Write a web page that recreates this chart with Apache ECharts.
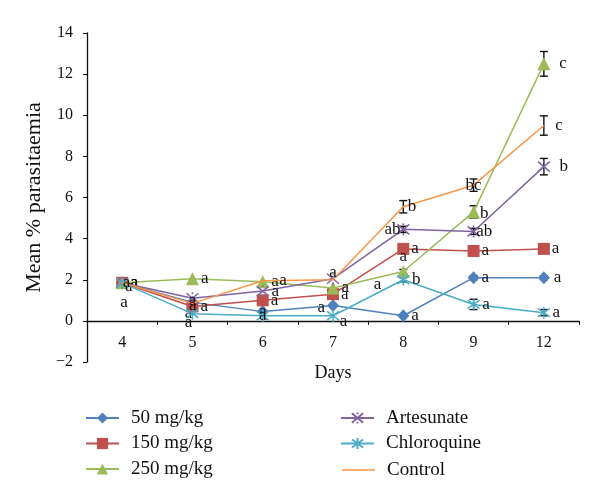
<!DOCTYPE html>
<html>
<head>
<meta charset="utf-8">
<script src="https://cdn.jsdelivr.net/npm/echarts@6/dist/echarts.min.js"></script>
<style>html,body{margin:0;padding:0;background:#fff}#c{width:600px;height:499px}</style>
</head>
<body>
<div id="c"></div>
<script>
var days = ['4', '5', '6', '7', '8', '9', '12'];
var yTicks = [-2, 0, 2, 4, 6, 8, 10, 12, 14];
var seriesNames = ['50 mg/kg', '150 mg/kg', '250 mg/kg', 'Artesunate', 'Chloroquine', 'Control'];

var mg50 = [1.85, 0.9, 0.45, 0.75, 0.25, 2.1, 2.1];
var mg150 = [1.85, 0.7, 1.0, 1.3, 3.5, 3.4, 3.5];
var mg250 = [1.85, 2.05, 1.9, 1.6, 2.4, 5.3, 12.5];
var artesunate = [1.85, 1.1, 1.45, 2.05, 4.45, 4.35, 7.5];
var chloroquine = [1.85, 0.35, 0.25, 0.25, 2.0, 0.8, 0.4];
var control = [1.85, 0.85, 1.95, 2.0, 5.55, 6.6, 9.5];

var err50 = [0, 0, 0, 0, 0, 0.1, 0.1];
var err150 = [0, 0, 0, 0, 0.1, 0.1, 0.1];
var err250 = [0, 0, 0, 0, 0.1, 0.3, 0.6];
var errArt = [0, 0, 0, 0, 0.15, 0.15, 0.4];
var errChl = [0, 0, 0, 0, 0.1, 0.25, 0.15];
var errCtl = [0, 0, 0, 0, 0.3, 0.3, 0.47];

var let50 = ['a', 'a', 'a', 'a', 'a', 'a', 'a'];
var let150 = ['a', 'a', 'a', 'a', 'a', 'a', 'a'];
var let250 = ['a', 'a', 'a', 'a', 'a', 'b', 'c'];
var letArt = ['a', 'a', 'a', 'a', 'ab', 'ab', 'b'];
var letChl = ['a', 'a', 'a', 'a', 'b', 'a', 'a'];
var letCtl = ['a', 'a', 'a', 'a', 'b', 'bc', 'c'];

var values = [mg50, mg150, mg250, artesunate, chloroquine, control];
var errors = [err50, err150, err250, errArt, errChl, errCtl];
var letters = [let50, let150, let250, letArt, letChl, letCtl];
var colors = ['#4F81BD', '#C0504D', '#9BBB59', '#8064A2', '#4BACC6', '#F79646'];
var symbols = [
  'diamond', 'rect', 'triangle',
  'path://M0,0L10,10M10,0L0,10M5,-1L5,1M5,9L5,11',
  'path://M0,0L10,10M10,0L0,10M5,-2L5,12',
  'circle'
];
var symbolSizes = [[12, 13], 12, 13, [12, 12], [12, 12], 1];

// label placement tweaks (style, not data)
var labelPos = {
  '0-3': {position: 'left', offset: [0, 2]},
  '0-6': {position: 'right', offset: [2, 0]},
  '3-4': {position: 'left', offset: [6, 0]},
  '3-5': {position: 'right', offset: [-6, 0]},
  '3-6': {position: 'right', offset: [7, 0]},
  '2-4': {position: 'top', offset: [0, 2]},
  '2-5': {position: 'right', offset: [-2, 2]},
  '2-6': {position: 'right', offset: [7, 0]},
  '5-5': {position: 'inside', offset: [0, 0]},
  '5-6': {position: 'right', offset: [9, 0]},
  '5-4': {position: 'right', offset: [2, 0]},
  '5-0': {position: 'right', offset: [-2, 0]},
  '5-1': {position: 'right', offset: [-6, 2]},
  '5-2': {position: 'right', offset: [14, 0]},
  '5-3': {position: 'top', offset: [0, 4]},
  '4-0': {position: 'bottom', offset: [2, 2]},
  '4-1': {position: 'bottom', offset: [-4, -8]},
  '4-2': {position: 'inside', offset: [0, 0]},
  '4-3': {position: 'right', offset: [-2, 6]},
  '3-3': {position: 'right', offset: [32, 6]},
  '3-0': {position: 'right', offset: [-6, 4]},
  '3-1': {position: 'inside', offset: [0, 2]},
  '0-1': {position: 'bottom', offset: [-4, -6]},
  '0-2': {position: 'inside', offset: [0, 0]}
};

var serif = 'Liberation Serif';
var series = [];
values.forEach(function (vals, s) {
  series.push({
    name: seriesNames[s],
    type: 'line',
    z: 3 + s,
    data: vals.map(function (v, i) {
      var lp = labelPos[s + '-' + i] || {position: 'right', offset: [0, 0]};
      return {
        value: v,
        label: {show: true, position: lp.position, offset: lp.offset, formatter: letters[s][i]}
      };
    }),
    symbol: symbols[s],
    symbolSize: symbolSizes[s],
    showSymbol: true,
    color: colors[s],
    lineStyle: {color: colors[s], width: 1.5},
    itemStyle: {color: colors[s], borderColor: colors[s], borderWidth: (s === 3 || s === 4) ? 1.5 : 0},
    label: {color: '#111', fontFamily: serif, fontSize: 17, distance: 2},
    emphasis: {disabled: true},
    animation: false
  });
});

// error bars
var errData = [];
values.forEach(function (vals, s) {
  vals.forEach(function (v, i) {
    if (errors[s][i] > 0) errData.push([i, v - errors[s][i], v + errors[s][i]]);
  });
});
series.push({
  type: 'custom',
  z: 2,
  silent: true,
  animation: false,
  data: errData,
  renderItem: function (params, api) {
    var lo = api.coord([api.value(0), api.value(1)]);
    var hi = api.coord([api.value(0), api.value(2)]);
    var hw = 4;
    var st = {stroke: '#111', lineWidth: 1.4};
    return {
      type: 'group',
      children: [
        {type: 'line', shape: {x1: lo[0], y1: lo[1], x2: hi[0], y2: hi[1]}, style: st},
        {type: 'line', shape: {x1: lo[0] - hw, y1: lo[1], x2: lo[0] + hw, y2: lo[1]}, style: st},
        {type: 'line', shape: {x1: hi[0] - hw, y1: hi[1], x2: hi[0] + hw, y2: hi[1]}, style: st}
      ]
    };
  }
});

var legendText = {fontFamily: serif, fontSize: 19, color: '#111', padding: [0, 0, 0, 7], lineHeight: 20};
var legendBase = {orient: 'vertical', itemWidth: 33, itemHeight: 14, itemGap: 5.5, textStyle: legendText, selectedMode: false};
var option = {
  backgroundColor: '#fff',
  animation: false,
  grid: {left: 87, right: 21, top: 33, bottom: 137},
  xAxis: {
    type: 'category',
    data: days,
    name: 'Days',
    nameLocation: 'middle',
    nameGap: 2,
    nameTextStyle: {fontFamily: serif, fontSize: 18, color: '#111'},
    axisLine: {onZero: true, lineStyle: {color: '#111', width: 1.3}},
    axisTick: {show: true, length: 4, lineStyle: {color: '#111'}},
    axisLabel: {fontFamily: serif, fontSize: 16, color: '#111', margin: -27},
    splitLine: {show: false}
  },
  yAxis: {
    type: 'value',
    min: -2,
    max: 14,
    interval: 2,
    name: 'Mean % parasitaemia',
    nameLocation: 'middle',
    nameGap: 41,
    nameTextStyle: {fontFamily: serif, fontSize: 22, color: '#111'},
    axisLine: {show: true, lineStyle: {color: '#111', width: 1.3}},
    axisTick: {show: true, length: 4, inside: false, lineStyle: {color: '#111'}},
    axisLabel: {
      fontFamily: serif, fontSize: 16, color: '#111', margin: 14,
      formatter: function (v) { return yTicks.indexOf(v) >= 0 ? String(v).replace('-', '\u2212') : ''; }
    },
    splitLine: {show: false}
  },
  legend: [
    Object.assign({data: seriesNames.slice(0, 3), left: 80, top: 403}, legendBase),
    Object.assign({data: seriesNames.slice(3, 5), left: 335, top: 403}, legendBase),
    Object.assign({}, legendBase, {data: ['Control'], left: 337, top: 455, icon: 'rect', itemHeight: 1.5})
  ],
  series: series
};

var chart = echarts.init(document.getElementById('c'), null, {renderer: 'canvas'});
chart.setOption(option);
</script>
</body>
</html>
